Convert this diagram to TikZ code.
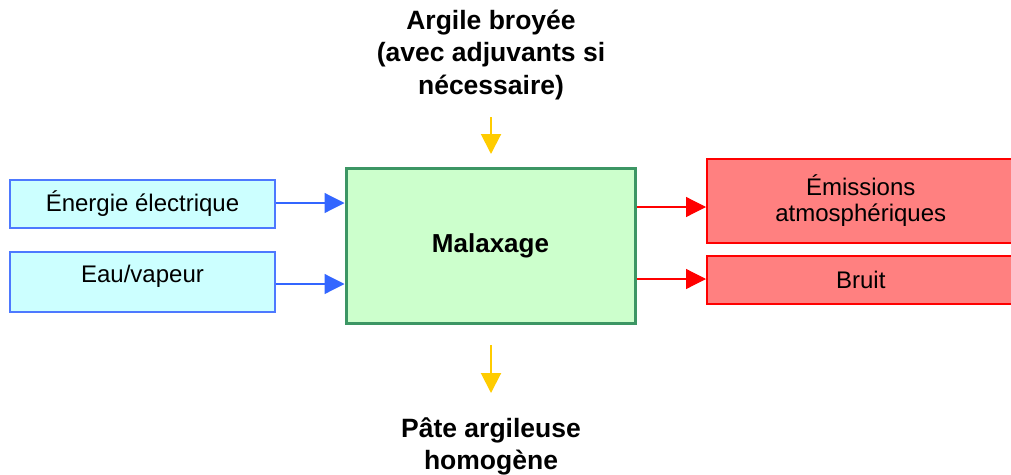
\documentclass[tikz,border=0pt]{standalone}
\usepackage{fontspec}
\setmainfont{Liberation Sans}
\usetikzlibrary{arrows.meta}
\definecolor{inblue}{HTML}{3366FF}
\definecolor{inborder}{HTML}{4D79FF}
\definecolor{infill}{HTML}{CCFFFF}
\definecolor{procgreen}{HTML}{3C9664}
\definecolor{procfill}{HTML}{CCFFCC}
\definecolor{outred}{HTML}{FF0000}
\definecolor{outfill}{HTML}{FF8080}
\definecolor{flowyellow}{HTML}{FFCC00}
\tikzset{
  inbox/.style={draw=inborder, line width=1.5pt, fill=infill, inner sep=0pt,
    font=\fontsize{24}{26}\selectfont, align=center},
  outbox/.style={draw=outred, line width=1.5pt, fill=outfill, inner sep=0pt,
    font=\fontsize{24}{26}\selectfont, align=center},
  procbox/.style={draw=procgreen, line width=3pt, fill=procfill, inner sep=0pt,
    font=\bfseries\fontsize{26}{30}\selectfont},
  flowlabel/.style={font=\bfseries\fontsize{26.5}{32.5}\selectfont, align=center},
  inarrow/.style={draw=inblue, line width=1.2pt, -{Triangle[length=20pt,width=20pt]}},
  outarrow/.style={draw=outred, line width=1.2pt, -{Triangle[length=20pt,width=20pt]}},
  flowarrow/.style={draw=flowyellow, line width=2pt, -{Triangle[length=20pt,width=20pt]}}
}
\begin{document}
\begin{tikzpicture}[x=1pt, y=-1pt]
\useasboundingbox (0,0) rectangle (1011,474);
\fill[white] (0,0) rectangle (1011,474);

% process
\node[procbox, minimum width=289pt, minimum height=155pt] (mal) at (490.5,245.5) {Malaxage};

% inputs
\node[inbox, minimum width=265pt, minimum height=48pt] (elec) at (142.5,204) {Énergie électrique};
\node[inbox, minimum width=265pt, minimum height=60pt, text depth=17pt] (eau) at (142.5,282) {Eau/vapeur};

% outputs (running off the right edge)
\node[outbox, minimum width=308pt, minimum height=84pt, anchor=west] (emis) at (706,201) {Émissions\\atmosphériques};
\node[outbox, minimum width=308pt, minimum height=48pt, anchor=west] (bruit) at (706,280) {Bruit};

% material in / out
\node[flowlabel] (argile) at (491,55) {Argile broyée\\(avec adjuvants si\\nécessaire)};
\node[flowlabel] (pate) at (491,446.5) {Pâte argileuse\\homogène};
\coordinate (topstart) at (491,117);
\coordinate (topend) at (491,154);
\coordinate (botstart) at (491,345);
\coordinate (botend) at (491,393);

% connectors
\draw[inarrow] (elec.east |- 0,203) -- (mal.west |- 0,203);
\draw[inarrow] (eau.east |- 0,284) -- (mal.west |- 0,284);
\draw[outarrow] (mal.east |- 0,207) -- (emis.west |- 0,207);
\draw[outarrow] (mal.east |- 0,279) -- (bruit.west |- 0,279);
\draw[flowarrow] (topstart) -- (topend);
\draw[flowarrow] (botstart) -- (botend);
\end{tikzpicture}
\end{document}
